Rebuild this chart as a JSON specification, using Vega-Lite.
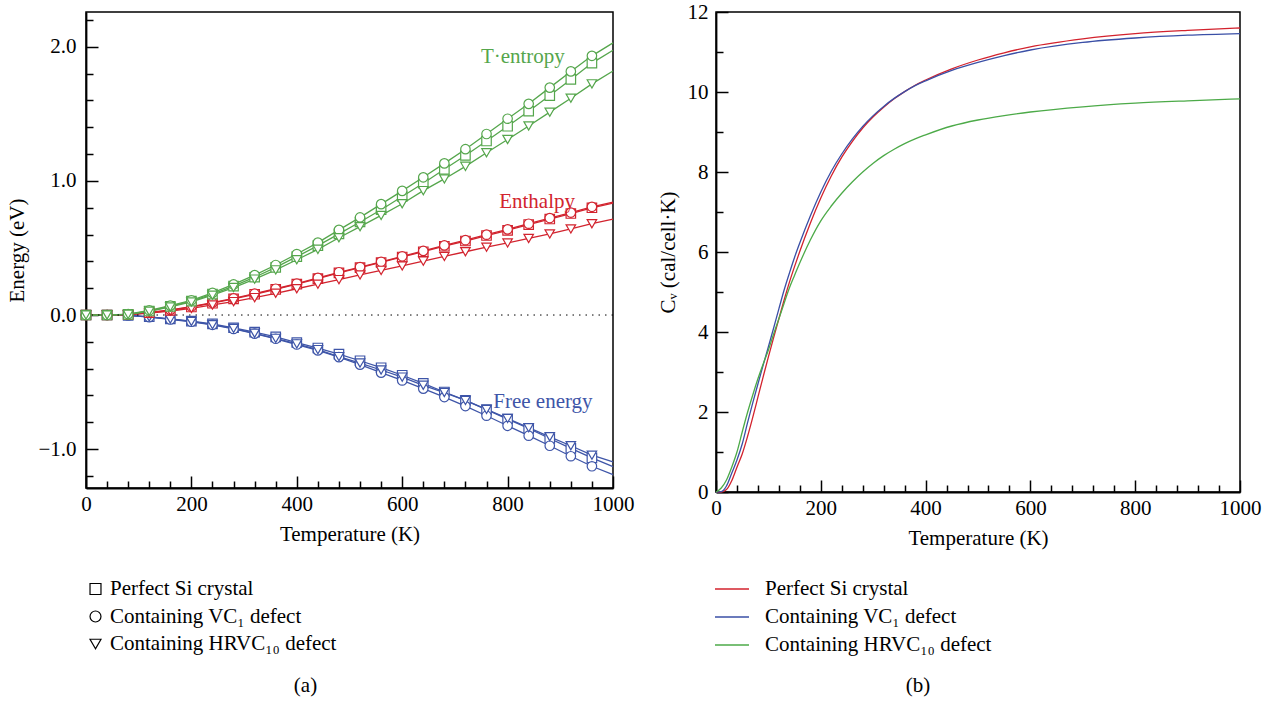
{
  "$schema": "https://vega.github.io/schema/vega-lite/v6.json",
  "padding": {"left": 6, "top": 0, "right": 0, "bottom": 0},
  "background": "white",
  "config": {
    "font": "Liberation Serif",
    "view": {"stroke": "black", "strokeWidth": 1.5},
    "axis": {"grid": false, "domainColor": "black", "domainWidth": 1.8, "tickColor": "black", "tickWidth": 1.5, "labelColor": "black", "titleColor": "black", "labelFontSize": 21, "titleFontSize": 21, "titleFontWeight": "normal", "labelFont": "Liberation Serif", "titleFont": "Liberation Serif", "labelFlush": false, "labelOverlap": false},
    "legend": {"labelFont": "Liberation Serif", "labelFontSize": 21, "labelColor": "black", "padding": 0, "labelLimit": 500},
    "title": {"font": "Liberation Serif", "fontSize": 21, "fontWeight": "normal", "color": "black"}
  },
  "datasets": {
    "energy": [
      {"T":0,"q":"F","s":"P","v":0},{"T":40,"q":"F","s":"P","v":0},{"T":80,"q":"F","s":"P","v":-0.002},{"T":120,"q":"F","s":"P","v":-0.013},{"T":160,"q":"F","s":"P","v":-0.029},{"T":200,"q":"F","s":"P","v":-0.045},{"T":240,"q":"F","s":"P","v":-0.066},{"T":280,"q":"F","s":"P","v":-0.095},{"T":320,"q":"F","s":"P","v":-0.127},{"T":360,"q":"F","s":"P","v":-0.163},{"T":400,"q":"F","s":"P","v":-0.205},{"T":440,"q":"F","s":"P","v":-0.246},{"T":480,"q":"F","s":"P","v":-0.291},{"T":520,"q":"F","s":"P","v":-0.341},{"T":560,"q":"F","s":"P","v":-0.393},{"T":600,"q":"F","s":"P","v":-0.449},{"T":640,"q":"F","s":"P","v":-0.509},{"T":680,"q":"F","s":"P","v":-0.574},{"T":720,"q":"F","s":"P","v":-0.636},{"T":760,"q":"F","s":"P","v":-0.705},{"T":800,"q":"F","s":"P","v":-0.776},{"T":840,"q":"F","s":"P","v":-0.846},{"T":880,"q":"F","s":"P","v":-0.921},{"T":920,"q":"F","s":"P","v":-0.995},{"T":960,"q":"F","s":"P","v":-1.065},{"T":1000,"q":"F","s":"P","v":-1.13},
      {"T":0,"q":"F","s":"V","v":0},{"T":40,"q":"F","s":"V","v":0},{"T":80,"q":"F","s":"V","v":-0.003},{"T":120,"q":"F","s":"V","v":-0.016},{"T":160,"q":"F","s":"V","v":-0.033},{"T":200,"q":"F","s":"V","v":-0.05},{"T":240,"q":"F","s":"V","v":-0.073},{"T":280,"q":"F","s":"V","v":-0.104},{"T":320,"q":"F","s":"V","v":-0.139},{"T":360,"q":"F","s":"V","v":-0.177},{"T":400,"q":"F","s":"V","v":-0.22},{"T":440,"q":"F","s":"V","v":-0.264},{"T":480,"q":"F","s":"V","v":-0.314},{"T":520,"q":"F","s":"V","v":-0.37},{"T":560,"q":"F","s":"V","v":-0.43},{"T":600,"q":"F","s":"V","v":-0.488},{"T":640,"q":"F","s":"V","v":-0.549},{"T":680,"q":"F","s":"V","v":-0.612},{"T":720,"q":"F","s":"V","v":-0.679},{"T":760,"q":"F","s":"V","v":-0.751},{"T":800,"q":"F","s":"V","v":-0.826},{"T":840,"q":"F","s":"V","v":-0.9},{"T":880,"q":"F","s":"V","v":-0.975},{"T":920,"q":"F","s":"V","v":-1.053},{"T":960,"q":"F","s":"V","v":-1.128},{"T":1000,"q":"F","s":"V","v":-1.19},
      {"T":0,"q":"F","s":"H","v":0},{"T":40,"q":"F","s":"H","v":0},{"T":80,"q":"F","s":"H","v":-0.002},{"T":120,"q":"F","s":"H","v":-0.014},{"T":160,"q":"F","s":"H","v":-0.03},{"T":200,"q":"F","s":"H","v":-0.048},{"T":240,"q":"F","s":"H","v":-0.072},{"T":280,"q":"F","s":"H","v":-0.1},{"T":320,"q":"F","s":"H","v":-0.136},{"T":360,"q":"F","s":"H","v":-0.174},{"T":400,"q":"F","s":"H","v":-0.215},{"T":440,"q":"F","s":"H","v":-0.258},{"T":480,"q":"F","s":"H","v":-0.31},{"T":520,"q":"F","s":"H","v":-0.358},{"T":560,"q":"F","s":"H","v":-0.41},{"T":600,"q":"F","s":"H","v":-0.463},{"T":640,"q":"F","s":"H","v":-0.524},{"T":680,"q":"F","s":"H","v":-0.578},{"T":720,"q":"F","s":"H","v":-0.637},{"T":760,"q":"F","s":"H","v":-0.704},{"T":800,"q":"F","s":"H","v":-0.771},{"T":840,"q":"F","s":"H","v":-0.84},{"T":880,"q":"F","s":"H","v":-0.908},{"T":920,"q":"F","s":"H","v":-0.975},{"T":960,"q":"F","s":"H","v":-1.045},{"T":1000,"q":"F","s":"H","v":-1.095},
      {"T":0,"q":"H","s":"P","v":0},{"T":40,"q":"H","s":"P","v":0},{"T":80,"q":"H","s":"P","v":0.004},{"T":120,"q":"H","s":"P","v":0.017},{"T":160,"q":"H","s":"P","v":0.035},{"T":200,"q":"H","s":"P","v":0.06},{"T":240,"q":"H","s":"P","v":0.088},{"T":280,"q":"H","s":"P","v":0.12},{"T":320,"q":"H","s":"P","v":0.155},{"T":360,"q":"H","s":"P","v":0.192},{"T":400,"q":"H","s":"P","v":0.23},{"T":440,"q":"H","s":"P","v":0.272},{"T":480,"q":"H","s":"P","v":0.314},{"T":520,"q":"H","s":"P","v":0.353},{"T":560,"q":"H","s":"P","v":0.392},{"T":600,"q":"H","s":"P","v":0.433},{"T":640,"q":"H","s":"P","v":0.472},{"T":680,"q":"H","s":"P","v":0.513},{"T":720,"q":"H","s":"P","v":0.552},{"T":760,"q":"H","s":"P","v":0.593},{"T":800,"q":"H","s":"P","v":0.632},{"T":840,"q":"H","s":"P","v":0.674},{"T":880,"q":"H","s":"P","v":0.716},{"T":920,"q":"H","s":"P","v":0.757},{"T":960,"q":"H","s":"P","v":0.8},{"T":1000,"q":"H","s":"P","v":0.835},
      {"T":0,"q":"H","s":"V","v":0},{"T":40,"q":"H","s":"V","v":0},{"T":80,"q":"H","s":"V","v":0.005},{"T":120,"q":"H","s":"V","v":0.019},{"T":160,"q":"H","s":"V","v":0.038},{"T":200,"q":"H","s":"V","v":0.063},{"T":240,"q":"H","s":"V","v":0.092},{"T":280,"q":"H","s":"V","v":0.124},{"T":320,"q":"H","s":"V","v":0.159},{"T":360,"q":"H","s":"V","v":0.196},{"T":400,"q":"H","s":"V","v":0.235},{"T":440,"q":"H","s":"V","v":0.277},{"T":480,"q":"H","s":"V","v":0.319},{"T":520,"q":"H","s":"V","v":0.358},{"T":560,"q":"H","s":"V","v":0.397},{"T":600,"q":"H","s":"V","v":0.438},{"T":640,"q":"H","s":"V","v":0.478},{"T":680,"q":"H","s":"V","v":0.519},{"T":720,"q":"H","s":"V","v":0.558},{"T":760,"q":"H","s":"V","v":0.599},{"T":800,"q":"H","s":"V","v":0.639},{"T":840,"q":"H","s":"V","v":0.681},{"T":880,"q":"H","s":"V","v":0.723},{"T":920,"q":"H","s":"V","v":0.764},{"T":960,"q":"H","s":"V","v":0.807},{"T":1000,"q":"H","s":"V","v":0.842},
      {"T":0,"q":"H","s":"H","v":0},{"T":40,"q":"H","s":"H","v":0},{"T":80,"q":"H","s":"H","v":0.003},{"T":120,"q":"H","s":"H","v":0.014},{"T":160,"q":"H","s":"H","v":0.03},{"T":200,"q":"H","s":"H","v":0.05},{"T":240,"q":"H","s":"H","v":0.075},{"T":280,"q":"H","s":"H","v":0.1},{"T":320,"q":"H","s":"H","v":0.13},{"T":360,"q":"H","s":"H","v":0.162},{"T":400,"q":"H","s":"H","v":0.196},{"T":440,"q":"H","s":"H","v":0.23},{"T":480,"q":"H","s":"H","v":0.264},{"T":520,"q":"H","s":"H","v":0.299},{"T":560,"q":"H","s":"H","v":0.333},{"T":600,"q":"H","s":"H","v":0.366},{"T":640,"q":"H","s":"H","v":0.402},{"T":680,"q":"H","s":"H","v":0.437},{"T":720,"q":"H","s":"H","v":0.472},{"T":760,"q":"H","s":"H","v":0.506},{"T":800,"q":"H","s":"H","v":0.538},{"T":840,"q":"H","s":"H","v":0.571},{"T":880,"q":"H","s":"H","v":0.605},{"T":920,"q":"H","s":"H","v":0.642},{"T":960,"q":"H","s":"H","v":0.681},{"T":1000,"q":"H","s":"H","v":0.716},
      {"T":0,"q":"TS","s":"P","v":0},{"T":40,"q":"TS","s":"P","v":0},{"T":80,"q":"TS","s":"P","v":0.005},{"T":120,"q":"TS","s":"P","v":0.03},{"T":160,"q":"TS","s":"P","v":0.064},{"T":200,"q":"TS","s":"P","v":0.104},{"T":240,"q":"TS","s":"P","v":0.156},{"T":280,"q":"TS","s":"P","v":0.215},{"T":320,"q":"TS","s":"P","v":0.282},{"T":360,"q":"TS","s":"P","v":0.355},{"T":400,"q":"TS","s":"P","v":0.435},{"T":440,"q":"TS","s":"P","v":0.518},{"T":480,"q":"TS","s":"P","v":0.605},{"T":520,"q":"TS","s":"P","v":0.694},{"T":560,"q":"TS","s":"P","v":0.785},{"T":600,"q":"TS","s":"P","v":0.884},{"T":640,"q":"TS","s":"P","v":0.983},{"T":680,"q":"TS","s":"P","v":1.087},{"T":720,"q":"TS","s":"P","v":1.19},{"T":760,"q":"TS","s":"P","v":1.298},{"T":800,"q":"TS","s":"P","v":1.408},{"T":840,"q":"TS","s":"P","v":1.52},{"T":880,"q":"TS","s":"P","v":1.637},{"T":920,"q":"TS","s":"P","v":1.757},{"T":960,"q":"TS","s":"P","v":1.879},{"T":1000,"q":"TS","s":"P","v":1.975},
      {"T":0,"q":"TS","s":"V","v":0},{"T":40,"q":"TS","s":"V","v":0},{"T":80,"q":"TS","s":"V","v":0.007},{"T":120,"q":"TS","s":"V","v":0.035},{"T":160,"q":"TS","s":"V","v":0.07},{"T":200,"q":"TS","s":"V","v":0.11},{"T":240,"q":"TS","s":"V","v":0.165},{"T":280,"q":"TS","s":"V","v":0.228},{"T":320,"q":"TS","s":"V","v":0.298},{"T":360,"q":"TS","s":"V","v":0.373},{"T":400,"q":"TS","s":"V","v":0.455},{"T":440,"q":"TS","s":"V","v":0.54},{"T":480,"q":"TS","s":"V","v":0.635},{"T":520,"q":"TS","s":"V","v":0.728},{"T":560,"q":"TS","s":"V","v":0.827},{"T":600,"q":"TS","s":"V","v":0.926},{"T":640,"q":"TS","s":"V","v":1.027},{"T":680,"q":"TS","s":"V","v":1.131},{"T":720,"q":"TS","s":"V","v":1.237},{"T":760,"q":"TS","s":"V","v":1.35},{"T":800,"q":"TS","s":"V","v":1.464},{"T":840,"q":"TS","s":"V","v":1.575},{"T":880,"q":"TS","s":"V","v":1.696},{"T":920,"q":"TS","s":"V","v":1.817},{"T":960,"q":"TS","s":"V","v":1.933},{"T":1000,"q":"TS","s":"V","v":2.03},
      {"T":0,"q":"TS","s":"H","v":0},{"T":40,"q":"TS","s":"H","v":0},{"T":80,"q":"TS","s":"H","v":0.005},{"T":120,"q":"TS","s":"H","v":0.028},{"T":160,"q":"TS","s":"H","v":0.06},{"T":200,"q":"TS","s":"H","v":0.098},{"T":240,"q":"TS","s":"H","v":0.148},{"T":280,"q":"TS","s":"H","v":0.205},{"T":320,"q":"TS","s":"H","v":0.268},{"T":360,"q":"TS","s":"H","v":0.337},{"T":400,"q":"TS","s":"H","v":0.412},{"T":440,"q":"TS","s":"H","v":0.49},{"T":480,"q":"TS","s":"H","v":0.576},{"T":520,"q":"TS","s":"H","v":0.659},{"T":560,"q":"TS","s":"H","v":0.743},{"T":600,"q":"TS","s":"H","v":0.83},{"T":640,"q":"TS","s":"H","v":0.928},{"T":680,"q":"TS","s":"H","v":1.015},{"T":720,"q":"TS","s":"H","v":1.109},{"T":760,"q":"TS","s":"H","v":1.21},{"T":800,"q":"TS","s":"H","v":1.309},{"T":840,"q":"TS","s":"H","v":1.41},{"T":880,"q":"TS","s":"H","v":1.513},{"T":920,"q":"TS","s":"H","v":1.617},{"T":960,"q":"TS","s":"H","v":1.724},{"T":1000,"q":"TS","s":"H","v":1.82}
    ],
    "labels": [
      {"T":829,"v":1.926,"q":"TS","label":"T·entropy"},
      {"T":856,"v":0.841,"q":"H","label":"Enthalpy"},
      {"T":867,"v":-0.645,"q":"F","label":"Free energy"}
    ],
    "cv": [
      {"T":0,"s":"P","cv":0},{"T":10,"s":"P","cv":0},{"T":20,"s":"P","cv":0.06},{"T":30,"s":"P","cv":0.28},{"T":40,"s":"P","cv":0.62},{"T":50,"s":"P","cv":0.95},{"T":60,"s":"P","cv":1.38},{"T":70,"s":"P","cv":1.86},{"T":80,"s":"P","cv":2.37},{"T":90,"s":"P","cv":2.88},{"T":100,"s":"P","cv":3.38},{"T":110,"s":"P","cv":3.86},{"T":120,"s":"P","cv":4.33},{"T":130,"s":"P","cv":4.8},{"T":140,"s":"P","cv":5.24},{"T":150,"s":"P","cv":5.64},{"T":160,"s":"P","cv":6.02},{"T":180,"s":"P","cv":6.72},{"T":200,"s":"P","cv":7.35},{"T":220,"s":"P","cv":7.9},{"T":240,"s":"P","cv":8.37},{"T":260,"s":"P","cv":8.76},{"T":280,"s":"P","cv":9.1},{"T":300,"s":"P","cv":9.38},{"T":320,"s":"P","cv":9.62},{"T":340,"s":"P","cv":9.83},{"T":360,"s":"P","cv":10.01},{"T":380,"s":"P","cv":10.17},{"T":400,"s":"P","cv":10.3},{"T":450,"s":"P","cv":10.58},{"T":500,"s":"P","cv":10.8},{"T":550,"s":"P","cv":10.98},{"T":600,"s":"P","cv":11.13},{"T":700,"s":"P","cv":11.33},{"T":800,"s":"P","cv":11.46},{"T":900,"s":"P","cv":11.54},{"T":1000,"s":"P","cv":11.6},
      {"T":0,"s":"V","cv":0},{"T":10,"s":"V","cv":0.01},{"T":20,"s":"V","cv":0.15},{"T":30,"s":"V","cv":0.47},{"T":40,"s":"V","cv":0.8},{"T":50,"s":"V","cv":1.2},{"T":60,"s":"V","cv":1.72},{"T":70,"s":"V","cv":2.22},{"T":80,"s":"V","cv":2.7},{"T":90,"s":"V","cv":3.17},{"T":100,"s":"V","cv":3.63},{"T":110,"s":"V","cv":4.1},{"T":120,"s":"V","cv":4.58},{"T":130,"s":"V","cv":5.05},{"T":140,"s":"V","cv":5.47},{"T":150,"s":"V","cv":5.87},{"T":160,"s":"V","cv":6.23},{"T":180,"s":"V","cv":6.9},{"T":200,"s":"V","cv":7.5},{"T":220,"s":"V","cv":8.02},{"T":240,"s":"V","cv":8.45},{"T":260,"s":"V","cv":8.82},{"T":280,"s":"V","cv":9.14},{"T":300,"s":"V","cv":9.41},{"T":320,"s":"V","cv":9.64},{"T":340,"s":"V","cv":9.84},{"T":360,"s":"V","cv":10.01},{"T":380,"s":"V","cv":10.16},{"T":400,"s":"V","cv":10.28},{"T":450,"s":"V","cv":10.54},{"T":500,"s":"V","cv":10.74},{"T":550,"s":"V","cv":10.91},{"T":600,"s":"V","cv":11.05},{"T":700,"s":"V","cv":11.24},{"T":800,"s":"V","cv":11.35},{"T":900,"s":"V","cv":11.42},{"T":1000,"s":"V","cv":11.46},
      {"T":0,"s":"H","cv":0},{"T":10,"s":"H","cv":0.1},{"T":20,"s":"H","cv":0.3},{"T":30,"s":"H","cv":0.62},{"T":40,"s":"H","cv":1.0},{"T":50,"s":"H","cv":1.5},{"T":60,"s":"H","cv":1.98},{"T":70,"s":"H","cv":2.42},{"T":80,"s":"H","cv":2.83},{"T":90,"s":"H","cv":3.2},{"T":100,"s":"H","cv":3.55},{"T":110,"s":"H","cv":3.95},{"T":120,"s":"H","cv":4.33},{"T":130,"s":"H","cv":4.72},{"T":140,"s":"H","cv":5.1},{"T":150,"s":"H","cv":5.42},{"T":160,"s":"H","cv":5.73},{"T":180,"s":"H","cv":6.3},{"T":200,"s":"H","cv":6.78},{"T":220,"s":"H","cv":7.15},{"T":240,"s":"H","cv":7.47},{"T":260,"s":"H","cv":7.75},{"T":280,"s":"H","cv":8.0},{"T":300,"s":"H","cv":8.22},{"T":320,"s":"H","cv":8.41},{"T":340,"s":"H","cv":8.57},{"T":360,"s":"H","cv":8.71},{"T":380,"s":"H","cv":8.83},{"T":400,"s":"H","cv":8.93},{"T":450,"s":"H","cv":9.15},{"T":500,"s":"H","cv":9.3},{"T":550,"s":"H","cv":9.41},{"T":600,"s":"H","cv":9.5},{"T":700,"s":"H","cv":9.63},{"T":800,"s":"H","cv":9.72},{"T":900,"s":"H","cv":9.78},{"T":1000,"s":"H","cv":9.83}
    ]
  },
  "spacing": 21,
  "resolve": {
    "scale": {"x": "independent", "y": "independent", "color": "independent", "shape": "independent", "stroke": "independent"},
    "axis": {"x": "independent", "y": "independent"},
    "legend": {"color": "independent", "shape": "independent", "stroke": "independent"}
  },
  "hconcat": [
    {
      "width": 527,
      "height": 476,
      "title": {"text": "(a)", "orient": "bottom", "anchor": "middle", "frame": "group", "dx": -44, "offset": 20},
      "resolve": {"axis": {"x": "independent", "y": "independent"}},
      "layer": [
        {
          "data": {"name": "energy"},
          "transform": [{"filter": "datum.T == 0 && datum.q == 'F'"}],
          "mark": {"type": "point", "filled": false, "color": "black", "opacity": 0, "strokeWidth": 1.2},
          "encoding": {
            "x": {"field": "T", "type": "quantitative", "axis": null},
            "y": {"field": "v", "type": "quantitative", "axis": null},
            "shape": {"field": "s", "type": "nominal", "scale": {"domain": ["P", "V", "H"], "range": ["square", "circle", "triangle-down"]},
                      "legend": {"orient": "none", "legendX": -1, "legendY": 566.5, "title": null, "direction": "vertical", "symbolStrokeColor": "black", "symbolFillColor": "white", "symbolOpacity": 1, "symbolStrokeWidth": 1.2, "symbolSize": 120, "labelOffset": 4, "rowPadding": 5.5,
                                 "labelExpr": "datum.label == 'P' ? 'Perfect Si crystal' : datum.label == 'V' ? 'Containing VC₁ defect' : 'Containing HRVC₁₀ defect'"}}
          }
        },
        {
          "data": {"name": "energy"},
          "mark": {"type": "line", "strokeWidth": 1.3},
          "encoding": {
            "x": {"field": "T", "type": "quantitative", "scale": {"domain": [0, 1000], "nice": false},
                  "axis": {"orient": "bottom", "values": [0, 200, 400, 600, 800, 1000], "format": "d", "tickSize": -12, "labelPadding": 17, "title": "Temperature (K)", "titlePadding": 9}},
            "y": {"field": "v", "type": "quantitative", "scale": {"domain": [-1.29, 2.26], "nice": false, "zero": false},
                  "axis": {"orient": "left", "values": [-1, 0, 1, 2], "format": ".1f", "tickSize": -12, "labelPadding": 22, "title": "Energy (eV)", "titlePadding": 10}},
            "color": {"field": "q", "type": "nominal", "scale": {"domain": ["TS", "H", "F"], "range": ["#55a64c", "#d2232e", "#3e55a8"]}, "legend": null},
            "detail": {"field": "s", "type": "nominal"}
          }
        },
        {
          "data": {"values": [{}]},
          "mark": {"type": "rule", "color": "black", "strokeWidth": 1, "strokeDash": [1.5, 5]},
          "encoding": {"y": {"datum": 0, "type": "quantitative", "axis": null}}
        },
        {
          "data": {"name": "energy"},
          "transform": [{"filter": "datum.T < 1000"}],
          "mark": {"type": "point", "filled": false, "fill": "white", "opacity": 1, "strokeWidth": 1.2, "size": 90},
          "encoding": {
            "x": {"field": "T", "type": "quantitative", "axis": null},
            "y": {"field": "v", "type": "quantitative", "axis": null},
            "stroke": {"field": "q", "type": "nominal", "scale": {"domain": ["TS", "H", "F"], "range": ["#55a64c", "#d2232e", "#3e55a8"]}, "legend": null},
            "shape": {"field": "s", "type": "nominal", "legend": null}
          }
        },
        {
          "data": {"name": "labels"},
          "mark": {"type": "text", "fontSize": 21, "font": "Liberation Serif", "align": "center", "baseline": "middle"},
          "encoding": {
            "x": {"field": "T", "type": "quantitative",
                  "axis": {"orient": "bottom", "values": [40, 80, 120, 160, 240, 280, 320, 360, 440, 480, 520, 560, 640, 680, 720, 760, 840, 880, 920, 960], "tickSize": -7, "labels": false, "domain": false, "title": null}},
            "y": {"field": "v", "type": "quantitative",
                  "axis": {"orient": "left", "values": [-1.2, -0.8, -0.6, -0.4, -0.2, 0.2, 0.4, 0.6, 0.8, 1.2, 1.4, 1.6, 1.8, 2.2], "tickSize": -7, "labels": false, "domain": false, "title": null}},
            "text": {"field": "label"},
            "color": {"field": "q", "type": "nominal", "legend": null}
          }
        }
      ]
    },
    {
      "width": 524,
      "height": 480,
      "title": {"text": "(b)", "orient": "bottom", "anchor": "middle", "frame": "group", "dx": -60, "offset": 20},
      "resolve": {"axis": {"x": "independent", "y": "independent"}},
      "layer": [
        {
          "data": {"name": "cv"},
          "mark": {"type": "line", "interpolate": "monotone", "strokeWidth": 1.3},
          "encoding": {
            "x": {"field": "T", "type": "quantitative", "scale": {"domain": [0, 1000], "nice": false},
                  "axis": {"orient": "bottom", "values": [0, 200, 400, 600, 800, 1000], "format": "d", "tickSize": -12, "labelPadding": 17, "title": "Temperature (K)", "titlePadding": 9}},
            "y": {"field": "cv", "type": "quantitative", "scale": {"domain": [0, 12], "nice": false},
                  "axis": {"orient": "left", "values": [0, 2, 4, 6, 8, 10, 12], "format": "d", "tickSize": -12, "labelPadding": 20, "title": "Cᵥ (cal/cell·K)", "titlePadding": 9}},
            "color": {"field": "s", "type": "nominal", "scale": {"domain": ["P", "V", "H"], "range": ["#d3222d", "#3a4fa6", "#4caa48"]},
                      "legend": {"orient": "none", "legendX": -2, "legendY": 559, "title": null, "direction": "vertical", "symbolType": "stroke", "symbolSize": 1156, "symbolStrokeWidth": 1.5, "labelOffset": 15, "rowPadding": -7,
                                 "labelExpr": "datum.label == 'P' ? 'Perfect Si crystal' : datum.label == 'V' ? 'Containing VC₁ defect' : 'Containing HRVC₁₀ defect'"}}
          }
        },
        {
          "data": {"name": "cv"},
          "mark": {"type": "point", "opacity": 0},
          "encoding": {
            "x": {"field": "T", "type": "quantitative",
                  "axis": {"orient": "bottom", "values": [40, 80, 120, 160, 240, 280, 320, 360, 440, 480, 520, 560, 640, 680, 720, 760, 840, 880, 920, 960], "tickSize": -7, "labels": false, "domain": false, "title": null}},
            "y": {"field": "cv", "type": "quantitative",
                  "axis": {"orient": "left", "values": [1, 3, 5, 7, 9, 11], "tickSize": -7, "labels": false, "domain": false, "title": null}}
          }
        }
      ]
    }
  ]
}
